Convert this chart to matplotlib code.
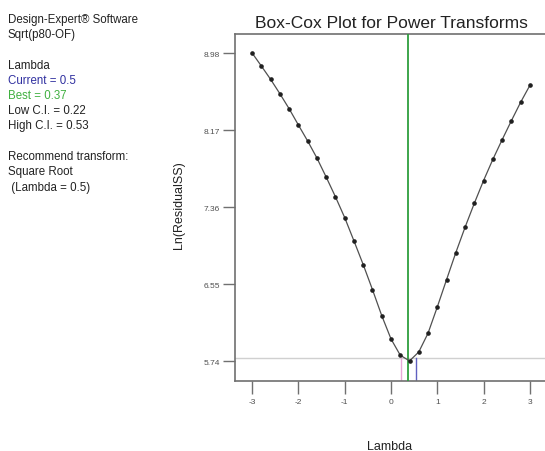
import matplotlib
matplotlib.use("Agg")
import matplotlib.pyplot as plt

lambdas = [-3.0, -2.8, -2.6, -2.4, -2.2, -2.0, -1.8, -1.6, -1.4, -1.2,
           -1.0, -0.8, -0.6, -0.4, -0.2, 0.0, 0.2, 0.4, 0.6, 0.8,
           1.0, 1.2, 1.4, 1.6, 1.8, 2.0, 2.2, 2.4, 2.6, 2.8, 3.0]
ln_rss = [8.98, 8.843, 8.703, 8.552, 8.394, 8.223, 8.055, 7.876, 7.676, 7.469,
          7.25, 7.005, 6.756, 6.493, 6.22, 5.975, 5.804, 5.744, 5.838, 6.035,
          6.311, 6.598, 6.882, 7.149, 7.401, 7.64, 7.862, 8.068, 8.268, 8.462, 8.64]
yticks = [5.74, 6.55, 7.36, 8.17, 8.98]
xticks = [-3, -2, -1, 0, 1, 2, 3]
best = 0.37
current = 0.5
low_ci = 0.22
high_ci = 0.53
ci_level = 5.774

plt.rcParams['font.family'] = ['Liberation Sans', 'DejaVu Sans']

fig = plt.figure(figsize=(5.45, 4.52), dpi=100)
ax = fig.add_axes([235/545, 1-382/452, (547-235)/545, (382-35)/452])

ax.axhline(ci_level, color='#d0d0d0', lw=1, zorder=1)
ax.plot([low_ci, low_ci], [5.533, ci_level], color='#e8a8d8', lw=1, zorder=2)
ax.plot([high_ci, high_ci], [5.533, ci_level], color='#6060c0', lw=1, zorder=2)
ax.axvline(best, color='#2e9e3e', lw=1.3, zorder=3)
ax.plot(lambdas, ln_rss, color='#505050', lw=0.9, marker='o', ms=2.3,
        mfc='#202020', mec='#202020', zorder=4)

ax.set_xlim(-3.37, 3.37)
ax.set_ylim(5.533, 9.18)
ax.set_xticks(xticks)
ax.set_xticklabels([str(t) for t in xticks])
ax.set_yticks(yticks)
ax.set_yticklabels([f"{t:.2f}" for t in yticks])
ax.tick_params(axis='both', direction='out', length=9, width=1, colors='#707070',
               labelsize=6, labelcolor='#505050', pad=3)
ax.tick_params(axis='y', pad=2)
for s in ax.spines.values():
    s.set_color('#707070')
    s.set_linewidth(1.2)

ax.set_title('Box-Cox Plot for Power Transforms', fontsize=12.5, color='#222222', pad=5)
fig.text(179/545, 1-205/452, 'Ln(ResidualSS)', rotation=90, ha='center', va='center',
         fontsize=9, color='#222222')
fig.text(390/545, 1-447/452, 'Lambda', ha='center', va='center', fontsize=9, color='#222222')

lines = [
    ('Design-Expert® Software', '#222222', 20),
    ('Sqrt(p80-OF)', '#222222', 35),
    ('Lambda', '#222222', 66),
    ('Current = 0.5', '#3030a0', 81),
    ('Best = 0.37', '#40b040', 96),
    ('Low C.I. = 0.22', '#222222', 111),
    ('High C.I. = 0.53', '#222222', 126),
    ('Recommend transform:', '#222222', 157),
    ('Square Root', '#222222', 172),
    (' (Lambda = 0.5)', '#222222', 188),
]
for txt, col, y in lines:
    fig.text(8/545, 1-y/452, txt, ha='left', va='center', fontsize=8.3, color=col)

fig.savefig('out.png', dpi=100)
